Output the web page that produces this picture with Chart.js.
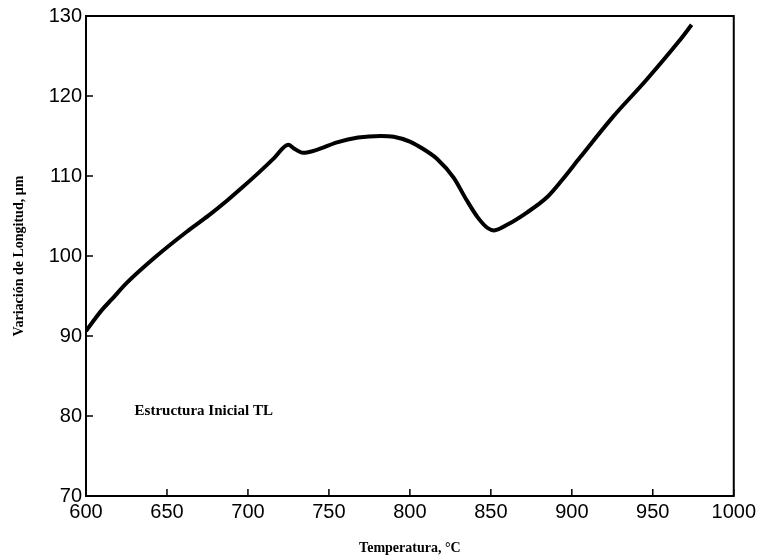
<!DOCTYPE html>
<html>
<head>
<meta charset="utf-8">
<script src="https://cdn.jsdelivr.net/npm/chart.js@4/dist/chart.umd.min.js"></script>
<style>
  html, body { margin: 0; padding: 0; background: #fff; }
  #wrap { width: 760px; height: 559px; }
</style>
</head>
<body>
<div id="wrap"><canvas id="dilatChart"></canvas></div>
<script>
// Dilatometry curve
var temps   = [600, 605, 610, 616, 625, 643, 662, 676, 687, 695, 706, 716, 725, 728, 734, 743, 755, 768, 782, 790, 800, 808, 817, 827, 835, 842, 848, 852, 860, 872, 885, 894, 905, 925, 946, 966, 974];
var lengths = [90.6, 92.0, 93.3, 94.6, 96.6, 99.9, 103.0, 105.1, 106.9, 108.3, 110.3, 112.2, 113.9, 113.5, 112.9, 113.3, 114.2, 114.8, 115.0, 114.9, 114.3, 113.4, 112.1, 109.8, 107.0, 104.8, 103.5, 103.2, 103.9, 105.4, 107.4, 109.5, 112.3, 117.3, 122.0, 126.8, 128.9];

var xTicks = [600, 650, 700, 750, 800, 850, 900, 950, 1000];
var yTicks = [70, 80, 90, 100, 110, 120, 130];

var noteText = "Estructura Inicial TL";
var notePos = { x: 630, y: 80.6 };

var points = temps.map(function (t, i) { return { x: t, y: lengths[i] }; });

// frame + inward tick marks + note
var framePlugin = {
    id: 'frame',
    afterDraw: function (chart) {
        var c = chart.ctx;
        var a = chart.chartArea;
        var xs = chart.scales.x, ys = chart.scales.y;
        c.save();
        c.strokeStyle = '#000';
        c.lineWidth = 2;
        c.strokeRect(a.left, a.top, a.right - a.left, a.bottom - a.top);

        c.lineWidth = 1.5;
        c.beginPath();
        xTicks.forEach(function (v) {
            var px = xs.getPixelForValue(v);
            c.moveTo(px, a.bottom);
            c.lineTo(px, a.bottom - 7);
        });
        yTicks.forEach(function (v) {
            var py = ys.getPixelForValue(v);
            c.moveTo(a.left, py);
            c.lineTo(a.left + 7, py);
        });
        c.stroke();

        c.fillStyle = '#000';
        c.font = 'bold 15px "Liberation Serif", "Times New Roman", serif';
        c.textAlign = 'left';
        c.textBaseline = 'middle';
        c.fillText(noteText, xs.getPixelForValue(notePos.x), ys.getPixelForValue(notePos.y));
        c.restore();
    }
};

var ctx = document.getElementById('dilatChart');
var myChart = new Chart(ctx, {
    type: 'line',
    data: {
        datasets: [{
            data: points,
            borderColor: '#000',
            borderWidth: 4,
            pointRadius: 0,
            fill: false,
            cubicInterpolationMode: 'monotone'
        }]
    },
    options: {
        responsive: true,
        maintainAspectRatio: false,
        animation: false,
        layout: { padding: { top: 16, right: 24, left: 0, bottom: 0 } },
        plugins: {
            legend: { display: false },
            tooltip: { enabled: false }
        },
        scales: {
            x: {
                type: 'linear',
                min: 600,
                max: 1000,
                afterBuildTicks: function (s) { s.ticks = xTicks.map(function (v) { return { value: v }; }); },
                afterFit: function (s) { s.height = 63; },
                grid: { display: false, drawTicks: false },
                border: { display: false },
                ticks: {
                    color: '#000',
                    padding: 4,
                    maxRotation: 0,
                    callback: function (v) { return String(v); },
                    font: { family: '"Liberation Sans", Arial, sans-serif', size: 20 }
                },
                title: {
                    display: true,
                    text: 'Temperatura, °C',
                    color: '#000',
                    padding: { top: 6, bottom: 2 },
                    font: { family: '"Liberation Serif", "Times New Roman", serif', size: 14, weight: 'bold' }
                }
            },
            y: {
                min: 70,
                max: 130,
                afterBuildTicks: function (s) { s.ticks = yTicks.map(function (v) { return { value: v }; }); },
                afterFit: function (s) { s.width = 86; },
                grid: { display: false, drawTicks: false },
                border: { display: false },
                ticks: {
                    color: '#000',
                    padding: 4,
                    font: { family: '"Liberation Sans", Arial, sans-serif', size: 20 }
                },
                title: {
                    display: true,
                    text: 'Variación de Longitud, µm',
                    color: '#000',
                    padding: { top: 11, bottom: 4 },
                    font: { family: '"Liberation Serif", "Times New Roman", serif', size: 14, weight: 'bold' }
                }
            }
        }
    },
    plugins: [framePlugin]
});
</script>
</body>
</html>
